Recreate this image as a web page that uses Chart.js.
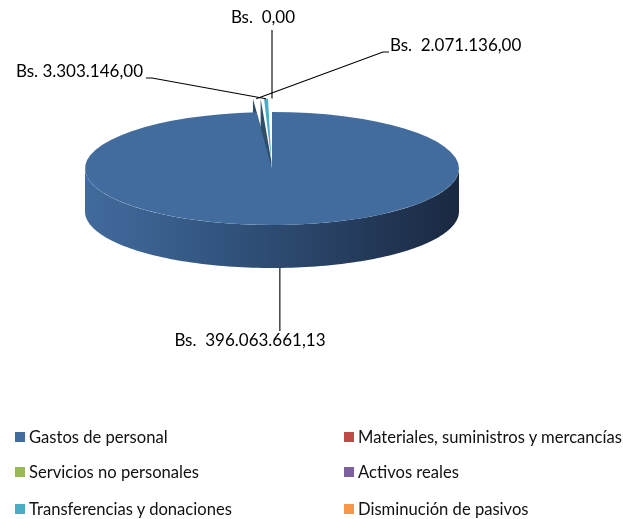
<!DOCTYPE html>
<html><head><meta charset="utf-8">
<script src="https://cdn.jsdelivr.net/npm/chart.js@4/dist/chart.umd.min.js"></script>
<style>
html,body{margin:0;padding:0;background:#fff;}
#wrap{position:relative;width:623px;height:519px;overflow:hidden;}
#c{position:absolute;left:0;top:0;}
.lg{position:absolute;font-family:Lato,"Open Sans",sans-serif;font-size:16.6px;color:#111;white-space:nowrap;line-height:20px;height:20px;display:flex;align-items:center;}
.sw{display:inline-block;width:10px;height:10px;margin-right:4px;}
</style></head>
<body>
<div id="wrap"><canvas id="c" width="623" height="519"></canvas><div id="legend"></div></div>
<script>
// ---- data ----
const categories = [
  'Gastos de personal',
  'Materiales, suministros y mercancías',
  'Servicios no personales',
  'Activos reales',
  'Transferencias y donaciones',
  'Disminución de pasivos'
];
const values = [396063661.13, null, null, 2071136.00, 3303146.00, 0.00];
const labelPrefixes = ['Bs.  ', null, null, 'Bs.  ', 'Bs. ', 'Bs.  '];
const colors = ['#426b9e', '#be4b48', '#98b954', '#7d60a0', '#4aacc5', '#f79646'];
const explode = [0, 0, 0, 90, 90, 90];

// ---- presentation ----
const CENTER_Y = 168.5;
const SQUASH = 56.5 / 187;
const DEPTH = 43;
const FONT = '17px Lato, "Open Sans", sans-serif';
const CUT_FACE = '#2f4e68';

function fmt(v) {
  const neg = v < 0; v = Math.abs(v);
  const fixed = v.toFixed(2);
  let [ip, dp] = fixed.split('.');
  ip = ip.replace(/\B(?=(\d{3})+(?!\d))/g, '.');
  return (neg ? '-' : '') + ip + ',' + dp;
}

// label placement (text position and leader elbow)
const labelPlace = {
  0: {type: 'down', lineEndY: 331, textX: 250, baseY: 346, align: 'center'},
  4: {type: 'elbow', elbow: {x: 152, y: 78}, end: {x: 146, y: 78}, textX: 143, baseY: 77, align: 'right'},
  3: {type: 'elbow', elbow: {x: 383, y: 52}, end: {x: 389, y: 52}, textX: 390, baseY: 51, align: 'left'},
  5: {type: 'up', lineEndY: 30, textX: 263, baseY: 23, align: 'center'}
};

// geometry of an arc as Chart.js draws it (offset moves by offset/4 and grows by offset/4)
function arcGeom(el, i, cx) {
  const off = (explode[i] || 0) / 4;
  const circ = el.endAngle - el.startAngle;
  const mid = (el.startAngle + el.endAngle) / 2;
  const fix = 1 - Math.sin(Math.min(Math.PI, circ || 0));
  const ccx = cx + off * Math.cos(mid);
  const ccy = CENTER_Y + SQUASH * off * Math.sin(mid);
  const r = el.outerRadius + off * fix;
  return {ccx, ccy, r, mid};
}

const pie3d = {
  id: 'pie3d',
  beforeDatasetsDraw(chart) {
    const ctx = chart.ctx;
    const arcs = chart.getDatasetMeta(0).data;
    const ref = arcs[0];
    const cx = ref.x, R = ref.outerRadius;
    // cut faces of the exploded slices
    arcs.forEach((el, i) => {
      if (!explode[i] || !(el.endAngle - el.startAngle > 0)) return;
      const g = arcGeom(el, i, cx);
      const sx = g.ccx + g.r * Math.cos(el.startAngle);
      const sy = g.ccy + SQUASH * g.r * Math.sin(el.startAngle);
      ctx.save();
      ctx.beginPath();
      ctx.moveTo(g.ccx, g.ccy);
      ctx.lineTo(sx, sy);
      ctx.lineTo(sx, sy + DEPTH);
      ctx.lineTo(g.ccx, g.ccy + DEPTH);
      ctx.closePath();
      ctx.fillStyle = CUT_FACE;
      ctx.fill();
      ctx.restore();
    });
    // side walls (front half of the ellipse)
    arcs.forEach((el, i) => {
      if (!(el.endAngle - el.startAngle > 0)) return;
      if (explode[i]) return;
      for (let k = -1; k <= 1; k++) {
        const s = Math.max(el.startAngle + 2 * Math.PI * k, 0);
        const e = Math.min(el.endAngle + 2 * Math.PI * k, Math.PI);
        if (e <= s) continue;
        const grad = ctx.createLinearGradient(cx - R, 0, cx + R, 0);
        if (i === 0) {
          grad.addColorStop(0, '#416b9c');
          grad.addColorStop(0.12, '#3c6494');
          grad.addColorStop(0.5, '#2d4b72');
          grad.addColorStop(1, '#1a2840');
        } else {
          grad.addColorStop(0, colors[i]);
          grad.addColorStop(1, colors[i]);
        }
        ctx.save();
        ctx.beginPath();
        const N = 120;
        for (let j = 0; j <= N; j++) {
          const a = s + (e - s) * j / N;
          const x = cx + R * Math.cos(a), y = CENTER_Y + SQUASH * R * Math.sin(a);
          j === 0 ? ctx.moveTo(x, y) : ctx.lineTo(x, y);
        }
        for (let j = N; j >= 0; j--) {
          const a = s + (e - s) * j / N;
          ctx.lineTo(cx + R * Math.cos(a), CENTER_Y + SQUASH * R * Math.sin(a) + DEPTH);
        }
        ctx.closePath();
        ctx.fillStyle = grad;
        ctx.fill();
        ctx.restore();
      }
    });
    ctx.save();
    ctx.translate(0, CENTER_Y);
    ctx.scale(1, SQUASH);
    ctx.translate(0, -ref.y);
  },
  afterDatasetsDraw(chart) {
    const ctx = chart.ctx;
    ctx.restore();
    const arcs = chart.getDatasetMeta(0).data;
    const ref = arcs[0];
    const cx = ref.x;
    ctx.save();
    ctx.font = FONT;
    ctx.fillStyle = '#000';
    ctx.strokeStyle = '#000';
    ctx.lineWidth = 1.1;
    values.forEach((v, i) => {
      const p = labelPlace[i];
      if (v === null || !p) return;
      const el = arcs[i];
      const g = arcGeom(el, i, cx);
      const ax = g.ccx + g.r * Math.cos(g.mid);
      let ay = g.ccy + SQUASH * g.r * Math.sin(g.mid);
      if (p.type === 'down') ay += DEPTH;
      ctx.beginPath();
      if (p.type === 'down' || p.type === 'up') {
        ctx.moveTo(ax, ay); ctx.lineTo(ax, p.lineEndY);
      } else {
        ctx.moveTo(ax, ay); ctx.lineTo(p.elbow.x, p.elbow.y); ctx.lineTo(p.end.x, p.end.y);
      }
      ctx.stroke();
      ctx.textAlign = p.align;
      ctx.textBaseline = 'alphabetic';
      ctx.fillText(labelPrefixes[i] + fmt(v), p.textX, p.baseY);
    });
    ctx.restore();
  }
};

const chart = new Chart(document.getElementById('c'), {
  type: 'pie',
  data: {
    labels: categories,
    datasets: [{
      data: values,
      backgroundColor: colors,
      borderWidth: 0,
      offset: explode,
      clip: false
    }]
  },
  options: {
    responsive: false,
    animation: false,
    radius: 187,
    layout: {padding: {left: 85, right: 164, top: 0, bottom: 0}},
    plugins: {legend: {display: false}, tooltip: {enabled: false}}
  },
  plugins: [pie3d]
});

// legend in two columns, built from the chart's own legend items
const items = Chart.overrides.pie.plugins.legend.labels.generateLabels(chart);
const colX = [15, 344];
const rowY = [437, 472, 509];
const lg = document.getElementById('legend');
items.forEach((it, i) => {
  const d = document.createElement('div');
  d.className = 'lg';
  d.style.left = colX[i % 2] + 'px';
  d.style.top = (rowY[Math.floor(i / 2)] - 10) + 'px';
  const sw = document.createElement('span');
  sw.className = 'sw';
  sw.style.background = it.fillStyle;
  d.appendChild(sw);
  d.appendChild(document.createTextNode(it.text));
  lg.appendChild(d);
});
</script>
</body></html>
